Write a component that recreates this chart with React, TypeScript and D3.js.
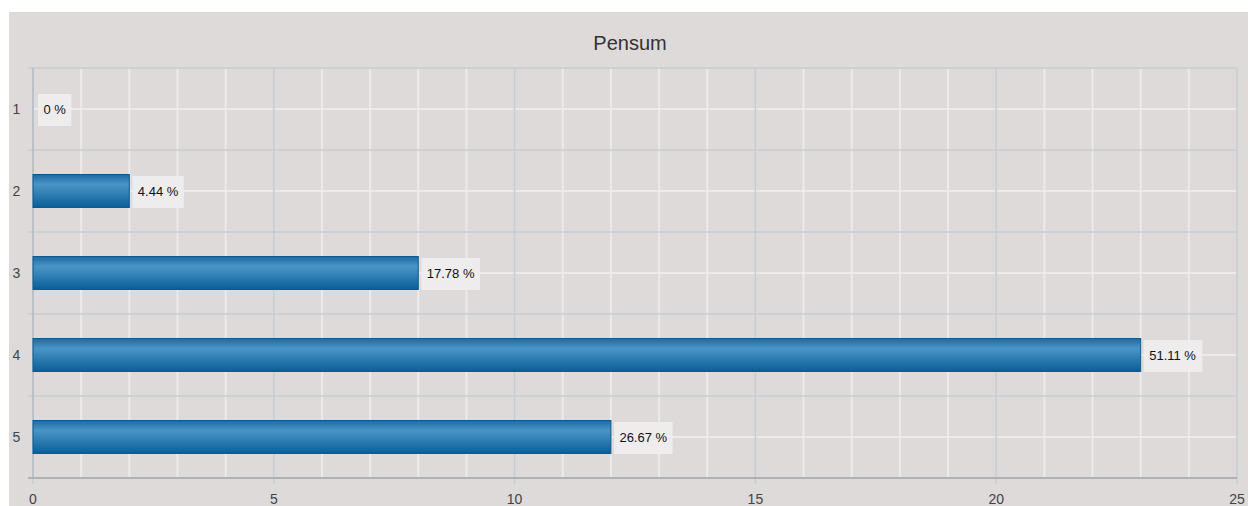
import * as d3 from 'd3';

const categories = ['1', '2', '3', '4', '5'];
const counts = [0, 2, 8, 23, 12];
const percentLabels = ['0 %', '4.44 %', '17.78 %', '51.11 %', '26.67 %'];
const xTicks = [0, 5, 10, 15, 20, 25];
const chartTitle = 'Pensum';

const W = 1248;
const H = 506;
const font = '"Liberation Sans", Arial, sans-serif';

// rough Arial advance widths at 13px
function textWidth(s: string, size = 13) {
    let w = 0;
    for (const c of s) {
        if (c === '.' || c === ' ') w += 0.278;
        else if (c === '%') w += 0.889;
        else w += 0.556;
    }
    return w * size;
}

export default function App() {
    const margin = { top: 68, right: 11, bottom: 28, left: 33 };
    const x = d3.scaleLinear().domain([0, 25]).range([margin.left, W - margin.right]);
    const y = d3.scaleBand().domain(categories).range([margin.top, H - margin.bottom]).paddingInner(0);
    const bw = y.bandwidth();
    const barH = 33;
    const minor = d3.range(0, 26).filter(v => v % 5 !== 0);
    const x0 = x(0);
    const x1 = x(25);
    const yTop = margin.top;
    const yBot = H - margin.bottom;
    const bounds = d3.range(0, categories.length + 1).map(i => yTop + i * bw);

    return (
        <svg width={W} height={H} style={{ position: 'absolute', left: 0, top: 0, display: 'block', background: '#fff' }} fontFamily={font}>
            <defs>
                <linearGradient id="barGrad" x1="0" y1="0" x2="0" y2="1">
                    <stop offset="0%" stopColor="#1d6aa2" />
                    <stop offset="30%" stopColor="#4a95c6" />
                    <stop offset="100%" stopColor="#0a5e98" />
                </linearGradient>
            </defs>
            <rect x={9} y={12} width={W - 9} height={H - 12} fill="#dddad9" />
            <text x={630} y={50} textAnchor="middle" fontSize={20} fill="#333">{chartTitle}</text>

            {/* minor vertical grid */}
            {minor.map(v => (
                <line key={'m' + v} x1={x(v)} x2={x(v)} y1={yTop} y2={yBot} stroke="#eceaea" strokeWidth={2} />
            ))}
            {/* category center lines */}
            {categories.map(c => (
                <line key={'c' + c} x1={x0} x2={x1} y1={y(c)! + bw / 2} y2={y(c)! + bw / 2} stroke="#f0efef" strokeWidth={1.5} />
            ))}
            {/* band boundaries */}
            {bounds.map((b, i) => (
                <line key={'b' + i} x1={x0 - 5} x2={x1} y1={b} y2={b} stroke="#c6ced4" strokeWidth={1.5} />
            ))}
            {/* major vertical grid */}
            {xTicks.map(v => (
                <line key={'M' + v} x1={x(v)} x2={x(v)} y1={yTop} y2={yBot + 6} stroke="#c6ced4" strokeWidth={1.5} />
            ))}
            <line x1={x0} x2={x0} y1={yTop} y2={yBot} stroke="#b4bcc2" strokeWidth={1.5} />
            <line x1={x0 - 5} x2={x1} y1={yBot} y2={yBot} stroke="#abb3b9" strokeWidth={2} />

            {categories.map((c, i) => {
                const cy = y(c)! + bw / 2;
                const end = x(counts[i]);
                const tw = textWidth(percentLabels[i]);
                const bx = end + (counts[i] === 0 ? 5 : 3);
                return (
                    <g key={c}>
                        {counts[i] > 0 && (
                            <rect x={x0} y={cy - barH / 2} width={end - x0} height={barH} fill="url(#barGrad)" stroke="#0c5a8f" strokeWidth={1} />
                        )}
                        <rect x={bx} y={cy - 15} width={tw + 11} height={32} fill="#efeeee" opacity={0.92} />
                        <text x={bx + 5.5} y={cy + 4.5} fontSize={13} fill="#111">{percentLabels[i]}</text>
                        <text x={16.5} y={cy + 5} textAnchor="middle" fontSize={14} fill="#444">{c}</text>
                    </g>
                );
            })}

            {xTicks.map(v => (
                <text key={'t' + v} x={x(v)} y={yBot + 26} textAnchor="middle" fontSize={14} fill="#444">{v}</text>
            ))}
        </svg>
    );
}
